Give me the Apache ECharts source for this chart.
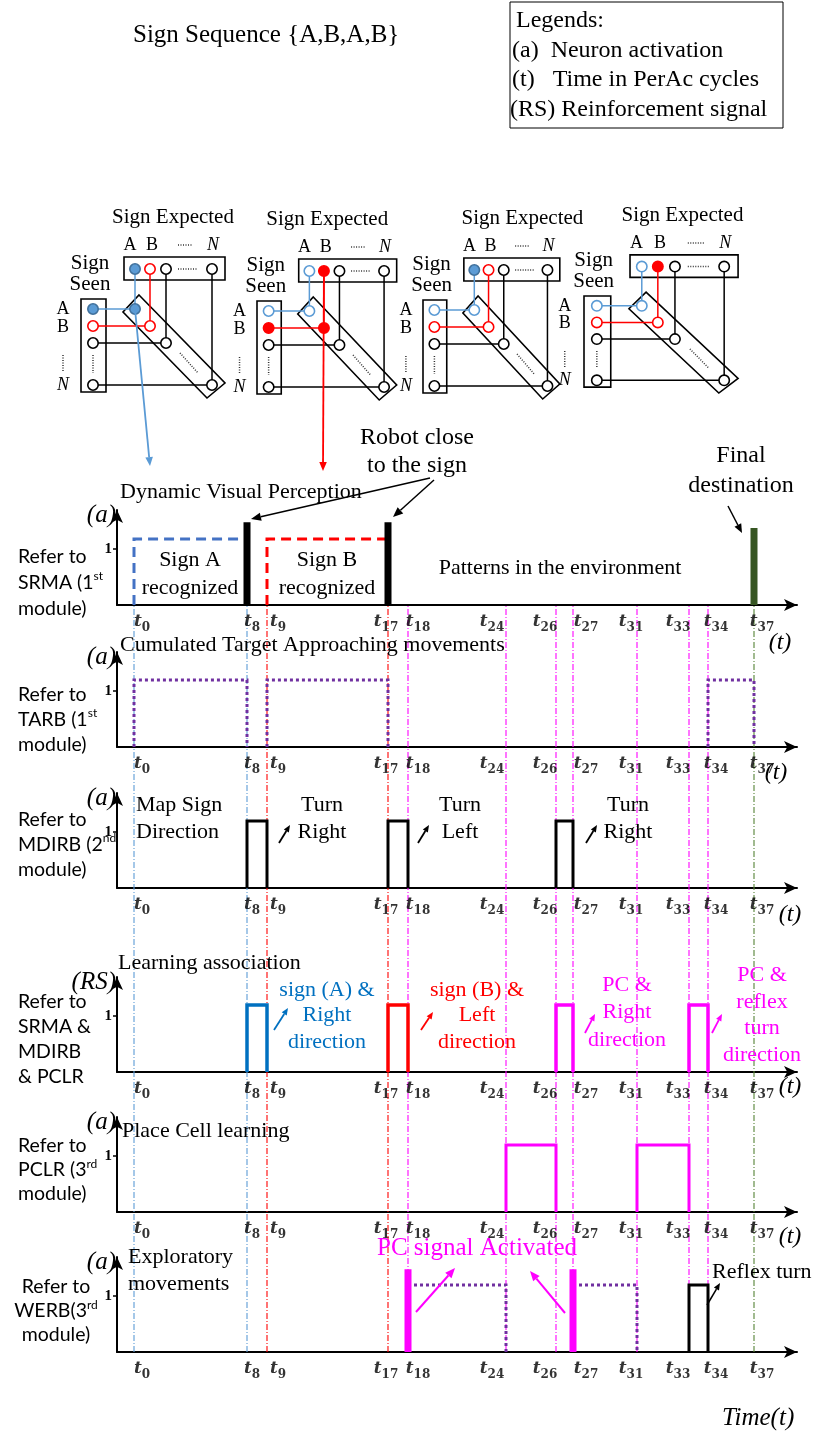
<!DOCTYPE html>
<html><head><meta charset="utf-8">
<script src="https://cdn.jsdelivr.net/npm/echarts@6/dist/echarts.min.js"></script>
<style>html,body{margin:0;padding:0;background:#fff}#c{width:814px;height:1434px}</style>
</head><body><div id="c"></div>
<script>
// ================= DATA =================
// PerAc cycle marks shown on every time axis, and their place along the (schematic) time axis
const timeLabels = ['0','8','9','17','18','24','26','27','31','33','34','37'];
const timeAxisPos = [17,130,150,271,291,389,439,456,520,572,591,637];
const guideColor = ['blue','blue','red','red','mag','mag','mag','mag','mag','mag','mag','green'];

// Panel 1 – SRMA (dynamic visual perception)
const srmaSignA = ['0','8', 1.18];        // from, to, level
const srmaSignB = ['9','17', 1.18];
const robotClose = [['8',1.48],['17',1.48]];
const finalDest = ['37', 1.38];
// Panel 2 – TARB
const tarbPulses = [['0','8',1.2],['9','17',1.2],['34','37',1.2]];
// Panel 3 – MDIRB
const mdirbPulses = [['8','9',1.2],['17','18',1.2],['26','27',1.2]];
// Panel 4 – reinforcement signal
const rsSignA = [['8','9',1.2]];
const rsSignB = [['17','18',1.2]];
const rsPC = [['26','27',1.2],['33','34',1.2]];
// Panel 5 – PCLR
const pclrPulses = [['24','26',1.2],['31','33',1.2]];
// Panel 6 – WERB
const pcSignal = [['18',1.48],['27',1.48]];
const exploratory = [['18','24',1.2],['27','31',1.2]];
const reflexTurn = [['33','34',1.2]];

// ================= STYLE / LAYOUT =================
const SERIF = '"Liberation Serif","Times New Roman",serif';
const MATH = '"DejaVu Serif",serif';
const SANS = 'Lato,"Open Sans",sans-serif';
const C = {blue:'#5B9BD5', red:'#FF0000', mag:'#FF00FF', green:'#548235', purple:'#7030A0', dBlue:'#0070C0', dashBlue:'#4472C4', dGreen:'#375623'};
const baselines = [605, 747, 888, 1072, 1212, 1352];
const AXL = 117, AXW = 680, AXH = 95, XMAX = 680, YMAX = 1.7;
const labelShift = [8,5,11,-2,10,-14,-11,13,-6,-11,8,8];
const yNames = ['(a)','(a)','(a)','(RS)','(a)','(a)'];
const FA = 22;   // annotation font size
const FH = 25;   // header font size

const T = l => timeAxisPos[timeLabels.indexOf(l)];

const grids = baselines.map(b => ({left:AXL, top:b-AXH, width:AXW, height:AXH}));
grids.push({left:AXL, top:baselines[0], width:AXW, height:baselines[5]-baselines[0]});

const xAxes = [], yAxes = [];
baselines.forEach((b,i) => {
  xAxes.push({gridIndex:i, type:'value', min:0, max:XMAX,
    axisLine:{show:true, onZero:false, lineStyle:{color:'#000', width:2}, symbol:['none','arrow'], symbolSize:[9,13]},
    axisTick:{show:false}, axisLabel:{show:false}, splitLine:{show:false}});
  yAxes.push({gridIndex:i, type:'value', min:0, max:YMAX, interval:1,
    axisLine:{show:true, lineStyle:{color:'#000', width:2}, symbol:['none','arrow'], symbolSize:[9,13]},
    axisTick:{show:true, length:4, customValues:[1], lineStyle:{color:'#000', width:1.5}},
    axisLabel:{customValues:[1], margin:5, color:'#000', fontFamily:SERIF, fontWeight:'bold', fontSize:15},
    splitLine:{show:false},
    name:yNames[i], nameLocation:'end', nameGap:-5,
    nameTextStyle:{fontFamily:SERIF, fontStyle:'italic', fontSize:25, color:'#000', align:'right', verticalAlign:'middle', padding:[0,1,0,0]}});
});
xAxes.push({gridIndex:6, type:'value', min:0, max:XMAX, show:false});
yAxes.push({gridIndex:6, type:'value', min:0, max:1, show:false});

const series = [];
function ln(panel, data, color, width, type, z) {
  series.push({type:'line', xAxisIndex:panel, yAxisIndex:panel, data, symbol:'none', silent:true,
    lineStyle:{color, width, type:type||'solid', cap:'butt', join:'miter'}, z:z||3, animation:false});
}
function box(panel, p, color, width, type) {
  ln(panel, [[T(p[0]),0],[T(p[0]),p[2]],[T(p[1]),p[2]],[T(p[1]),0]], color, width, type);
}
// guide lines across all panels
timeAxisPos.forEach((p,k) => {
  series.push({type:'line', xAxisIndex:6, yAxisIndex:6, data:[[p,0],[p,1]], symbol:'none', silent:true,
    lineStyle:{color:C[guideColor[k]], width:1.1, type:[6,2,1,2]}, z:1, animation:false});
});
// Panel 1
ln(0, [[T(srmaSignA[0]),0],[T(srmaSignA[0]),srmaSignA[2]],[T(srmaSignA[1]),srmaSignA[2]]], C.dashBlue, 3, [10,6]);
ln(0, [[T(srmaSignB[0]),0],[T(srmaSignB[0]),srmaSignB[2]],[T(srmaSignB[1]),srmaSignB[2]]], C.red, 3, [10,6]);
robotClose.forEach(r => ln(0, [[T(r[0]),0],[T(r[0]),r[1]]], '#000', 7, 'solid', 4));
ln(0, [[T(finalDest[0]),0],[T(finalDest[0]),finalDest[1]]], C.dGreen, 7, 'solid', 4);
// Panel 2
tarbPulses.forEach(p => box(1, p, C.purple, 3, [3,3]));
// Panel 3
mdirbPulses.forEach(p => box(2, p, '#000', 3));
// Panel 4
rsSignA.forEach(p => box(3, p, C.dBlue, 3.5));
rsSignB.forEach(p => box(3, p, C.red, 3.5));
rsPC.forEach(p => box(3, p, C.mag, 3.5));
// Panel 5
pclrPulses.forEach(p => box(4, p, C.mag, 3));
// Panel 6
exploratory.forEach(p => ln(5, [[T(p[0]),p[2]],[T(p[1]),p[2]],[T(p[1]),0]], C.purple, 3, [3,3]));
pcSignal.forEach(r => ln(5, [[T(r[0]),0],[T(r[0]),r[1]]], C.mag, 7, 'solid', 4));
reflexTurn.forEach(p => box(5, p, '#000', 3));

// time tick labels
baselines.forEach((b,i) => {
  series.push({type:'scatter', xAxisIndex:i, yAxisIndex:i, symbolSize:0, silent:true, animation:false, z:5,
    data: timeAxisPos.map((p,k) => ({value:[p,0], label:{offset:[labelShift[k],17]}})),
    label:{show:true, position:'inside', formatter: q => '{t|t}{s|' + timeLabels[q.dataIndex] + '}',
      rich:{t:{fontFamily:MATH, fontWeight:'bold', fontStyle:'italic', fontSize:17, color:'#000', lineHeight:23},
            s:{fontFamily:MATH, fontWeight:'bold', fontSize:12, color:'#000', verticalAlign:'bottom'}}}
  });
});

// ================= GRAPHICS (text, arrows, schematic) =================
const G = [];
function txt(x, y, text, o) {
  o = o || {};
  G.push({type:'text', x, y, z:10, silent:true, style:Object.assign({text, fill:o.color||'#000',
    fontFamily:o.family||SERIF, fontSize:o.size||FA, fontStyle:o.style||'normal', fontWeight:o.weight||'normal',
    align:o.align||'left', verticalAlign:o.va||'middle', lineHeight:o.lh||undefined}, o.rich?{rich:o.rich}:{})});
}
function arrow(x1,y1,x2,y2,color,w,h) {
  h = h || 9; const a = Math.atan2(y2-y1,x2-x1), hw = h*0.42;
  const bx = x2-h*Math.cos(a), by = y2-h*Math.sin(a), px = -Math.sin(a)*hw, py = Math.cos(a)*hw;
  G.push({type:'line', z:10, silent:true, shape:{x1,y1,x2:bx,y2:by}, style:{stroke:color, lineWidth:w}});
  G.push({type:'polygon', z:10, silent:true, shape:{points:[[x2,y2],[bx+px,by+py],[bx-px,by-py]]}, style:{fill:color}});
}

// header
txt(133, 35, 'Sign Sequence {A,B,A,B}', {size:FH});
G.push({type:'rect', z:10, shape:{x:510, y:2, width:273, height:126}, style:{fill:'none', stroke:'#000', lineWidth:1}});
txt(516, 21, 'Legends:', {size:FH-1});
txt(512, 51, '(a)  Neuron activation', {size:FH-1});
txt(512, 80, '(t)   Time in PerAc cycles', {size:FH-1});
txt(510, 110, '(RS) Reinforcement signal', {size:FH-1});

// neuron schematic
function diagram(ax, ay, sx, sy, titleDx, st, tail) {
  const P = (dx,dy) => [ax+dx*sx, ay+dy*sy];
  const R = 5.2;
  const cols = [54,69,85,131], rows = [10,27,44,86], topY = -30, leftX = 12;
  const col = [C.blue, C.red, '#000', '#000'];
  const fillOf = (k, f) => f ? (k===0 ? C.blue : C.red) : '#fff';
  const strokeOf = k => k===0 ? (C.blue) : col[k];
  let a = P(43,-42), b = P(144,-19);
  G.push({type:'rect', z:8, shape:{x:a[0], y:a[1], width:b[0]-a[0], height:b[1]-a[1]}, style:{fill:'none', stroke:'#000', lineWidth:1.6}});
  a = P(0,0); b = P(25,93);
  G.push({type:'rect', z:8, shape:{x:a[0], y:a[1], width:b[0]-a[0], height:b[1]-a[1]}, style:{fill:'none', stroke:'#000', lineWidth:1.6}});
  G.push({type:'polygon', z:8, shape:{points:[P(58,-4),P(144,84),P(126,99),P(42,13)]}, style:{fill:'none', stroke:'#000', lineWidth:1.6}});
  for (let k=0;k<4;k++) {
    const t = P(cols[k], topY), l = P(leftX, rows[k]), d = P(cols[k], rows[k]);
    G.push({type:'line', z:8, shape:{x1:t[0], y1:t[1], x2:d[0], y2:d[1]}, style:{stroke:col[k], lineWidth:1.5}});
    G.push({type:'line', z:8, shape:{x1:l[0], y1:l[1], x2:d[0], y2:d[1]}, style:{stroke:col[k], lineWidth:1.5}});
  }
  const dot = (p1,p2,c) => G.push({type:'line', z:8, shape:{x1:p1[0],y1:p1[1],x2:p2[0],y2:p2[1]}, style:{stroke:c||'#333', lineWidth:1.5, lineDash:[1,1.5]}});
  dot(P(97,topY), P(117,topY)); dot(P(leftX,56), P(leftX,74)); dot(P(99,54), P(117,74));
  dot(P(97,-54), P(112,-54)); dot(P(-18,56), P(-18,73));
  for (let k=0;k<4;k++) {
    const f = st[k] || [0,0,0];
    [[P(cols[k],topY),f[0]],[P(leftX,rows[k]),f[1]],[P(cols[k],rows[k]),f[2]]].forEach(([c,fl]) => {
      G.push({type:'circle', z:9, shape:{cx:c[0], cy:c[1], r:R}, style:{fill: k<2 ? fillOf(k,fl) : '#fff', stroke: (k===0 && fl) ? '#41719C' : strokeOf(k), lineWidth:1.6}});
    });
  }
  const tp = P(92,-82); txt(tp[0]+titleDx, tp[1], 'Sign Expected', {size:21, align:'center'});
  let p = P(49,-54); txt(p[0], p[1], 'A', {size:18, align:'center'});
  p = P(71,-54); txt(p[0], p[1], 'B', {size:18, align:'center'});
  p = P(132,-54); txt(p[0], p[1], 'N', {size:18, align:'center', style:'italic'});
  p = P(9,-36); txt(p[0], p[1], 'Sign', {size:21, align:'center'});
  p = P(9,-15); txt(p[0], p[1], 'Seen', {size:21, align:'center'});
  p = P(-18,10); txt(p[0], p[1], 'A', {size:18, align:'center'});
  p = P(-18,28); txt(p[0], p[1], 'B', {size:18, align:'center'});
  p = P(-18,86); txt(p[0], p[1], 'N', {size:18, align:'center', style:'italic'});
  if (tail) { const s = P(cols[tail.k], tail.fromTop ? topY : rows[tail.k]); arrow(s[0], s[1], tail.x, tail.y, tail.color, 1.8, 9); }
}
diagram(81, 299, 1.0, 1.0, 0, [[1,1,1],[0,0,0]], {k:0, x:150, y:466, color:C.blue});
diagram(257, 301, 0.97, 1.0, -19, [[0,0,0],[1,1,1]], {k:1, x:323, y:471, color:C.red, fromTop:true});
diagram(423, 300, 0.95, 1.0, 12, [[1,0,0],[0,0,0]], null);
diagram(584, 296, 1.07, 0.98, 0, [[0,0,0],[1,0,0]], null);

// panel 1 annotations
txt(417, 438, 'Robot close', {size:24, align:'center'});
txt(417, 466, 'to the sign', {size:24, align:'center'});
arrow(430, 478, 251, 519, '#000', 1.5, 10);
arrow(434, 480, 393, 517, '#000', 1.5, 10);
txt(120, 492, 'Dynamic Visual Perception', {size:FA});
txt(741, 456, 'Final', {size:24, align:'center'});
txt(741, 486, 'destination', {size:24, align:'center'});
arrow(728, 506, 742, 533, '#000', 1.5, 9);
txt(190, 560, 'Sign A', {size:FA, align:'center'});
txt(190, 588, 'recognized', {size:FA, align:'center'});
txt(327, 560, 'Sign B', {size:FA, align:'center'});
txt(327, 588, 'recognized', {size:FA, align:'center'});
txt(560, 568, 'Patterns in the environment', {size:FA, align:'center'});
// panel 2
txt(120, 645, 'Cumulated Target Approaching movements', {size:FA});
// panel 3
txt(136, 805, 'Map Sign', {size:FA});
txt(136, 832, 'Direction', {size:FA});
[[322,'Turn','Right',279],[460,'Turn','Left',418],[628,'Turn','Right',586]].forEach(([x,a,b,ax]) => {
  txt(x, 805, a, {size:FA, align:'center'}); txt(x, 832, b, {size:FA, align:'center'});
  arrow(ax, 843, ax+11, 825, '#000', 1.8, 7);
});
// panel 4
txt(118, 963, 'Learning association', {size:FA});
[['sign (A) &',990],['Right',1015],['direction',1042]].forEach(([s,y]) => txt(327, y, s, {size:FA, align:'center', color:C.dBlue}));
arrow(274, 1030, 288, 1008, C.dBlue, 1.8, 7);
[['sign (B) &',990],['Left',1015],['direction',1042]].forEach(([s,y]) => txt(477, y, s, {size:FA, align:'center', color:C.red}));
arrow(421, 1030, 433, 1012, C.red, 1.8, 7);
[['PC &',985],['Right',1012],['direction',1040]].forEach(([s,y]) => txt(627, y, s, {size:FA, align:'center', color:C.mag}));
arrow(585, 1033, 595, 1014, C.mag, 1.8, 7);
[['PC &',975],['reflex',1002],['turn',1028],['direction',1055]].forEach(([s,y]) => txt(762, y, s, {size:FA, align:'center', color:C.mag}));
arrow(712, 1033, 722, 1014, C.mag, 1.8, 7);
// panel 5
txt(122, 1131, 'Place Cell learning', {size:FA});
// panel 6
txt(128, 1257, 'Exploratory', {size:FA});
txt(128, 1284, 'movements', {size:FA});
txt(377, 1248, 'PC signal Activated', {size:25, color:C.mag});
arrow(416, 1312, 455, 1268, C.mag, 2, 10);
arrow(565, 1313, 530, 1271, C.mag, 2, 10);
txt(712, 1272, 'Reflex turn', {size:FA});
arrow(707, 1305, 720, 1283, '#000', 1.5, 7);

// (t) labels and bottom axis name
[[780,643],[776,773],[790,915],[790,1087],[790,1237]].forEach(([x,y]) => txt(x, y, '(t)', {size:24, style:'italic', align:'center'}));
txt(722, 1418, 'Time(t)', {size:25, style:'italic'});

// left-side module labels
const supRich = {sup:{fontSize:12, fontFamily:SANS, verticalAlign:'top', color:'#000'}, m:{fontSize:19.5, fontFamily:SANS, color:C.mag}};
function modLabel(x, top, text, lh, align) {
  G.push({type:'text', x, y:top, z:10, silent:true, style:{text, fill:'#000', fontFamily:SANS, fontSize:19.5, lineHeight:lh, align:align||'left', verticalAlign:'top', rich:supRich}});
}
modLabel(18, 544, 'Refer to\nSRMA (1{sup|st}\nmodule)', 26);
modLabel(18, 682, 'Refer to\nTARB (1{sup|st}\nmodule)', 25);
modLabel(18, 807, 'Refer to\nMDIRB (2{sup|nd}\nmodule)', 25);
modLabel(18, 989, 'Refer to\nSRMA &\nMDIRB\n{m|& PCLR}', 25);
modLabel(18, 1134, 'Refer to\nPCLR (3{sup|rd}\nmodule)', 24);
modLabel(56, 1275, 'Refer to\nWERB(3{sup|rd}\nmodule)', 24, 'center');

const chart = echarts.init(document.getElementById('c'), null, {renderer:'canvas'});
chart.setOption({animation:false, backgroundColor:'#fff', grid:grids, xAxis:xAxes, yAxis:yAxes, series, graphic:{elements:G}});
</script></body></html>
